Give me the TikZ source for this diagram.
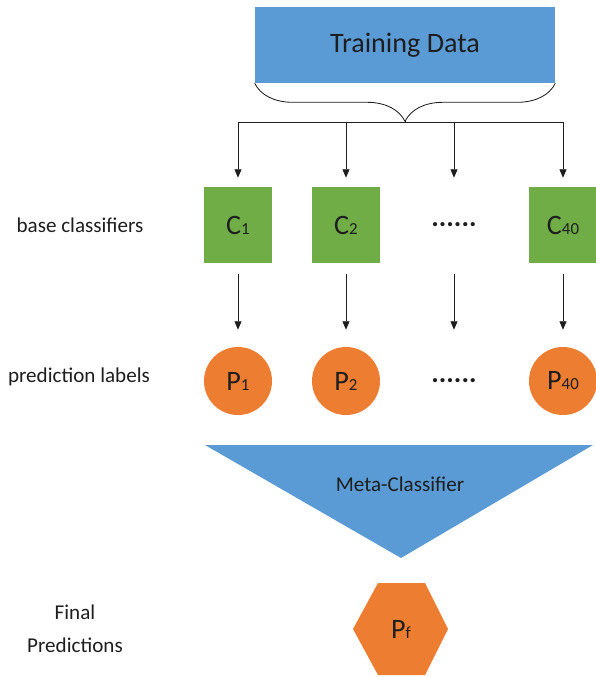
\documentclass[tikz,border=0pt]{standalone}
\usepackage{fontspec}
\setmainfont{Carlito}
\usetikzlibrary{arrows.meta,decorations.pathreplacing}
\definecolor{datablue}{HTML}{5B9BD5}
\definecolor{basegreen}{HTML}{70AD47}
\definecolor{predorange}{HTML}{ED7D31}
\definecolor{inkgray}{HTML}{1E1E1E}
\newcommand{\lsub}[1]{{\fontsize{12}{12}\selectfont #1}}
\tikzset{
  bigtext/.style={font=\fontsize{20}{24}\selectfont, text=inkgray},
  databox/.style={bigtext, fill=datablue, minimum width=7.5cm, minimum height=1.9cm},
  clsbox/.style={bigtext, fill=basegreen, minimum width=1.675cm, minimum height=1.9cm},
  predcirc/.style={bigtext, circle, fill=predorange, minimum size=1.7cm, inner sep=0pt},
  dotsbox/.style={minimum width=1.675cm, minimum height=1.9cm,
    font=\bfseries\fontsize{20}{24}\selectfont, text=inkgray},
  dotscirc/.style={dotsbox, circle, minimum size=1.7cm, inner sep=0pt},
  rowlabel/.style={font=\fontsize{15}{18}\selectfont, text=inkgray, align=center},
  flow/.style={-{Triangle[width=5pt,length=6pt]}, draw=inkgray, line width=0.6pt},
}
\begin{document}
\begin{tikzpicture}[x=0.025cm,y=-0.025cm]
  \useasboundingbox (0,0) rectangle (596,677);
  % training data and the brace under it
  \node[databox] (data) at (405,45) {Training Data};
  \draw[draw=inkgray, line width=0.6pt, decorate,
    decoration={brace, mirror, amplitude=0.95cm}]
    (data.south west) -- (data.south east);
  \coordinate (split) at (405,122);
  % base classifiers
  \node[clsbox] (c1) at (238,225) {C\lsub{1}};
  \node[clsbox] (c2) at (346,225) {C\lsub{2}};
  \node[dotsbox] (c3) at (454,225) {......};
  \node[clsbox] (c4) at (563,225) {C\lsub{40}};
  % prediction labels
  \node[predcirc] (p1) at (238,381) {P\lsub{1}};
  \node[predcirc] (p2) at (346,381) {P\lsub{2}};
  \node[dotscirc] (p3) at (454,381) {......};
  \node[predcirc] (p4) at (563,381) {P\lsub{40}};
  \draw[draw=inkgray, line width=0.6pt] (split) -- ++(0,-2);
  \draw[draw=inkgray, line width=0.6pt] (c1 |- split) -- (c4 |- split);
  \foreach \i in {1,...,4} {
    \draw[flow, shorten >=0.225cm] (c\i |- split) -- (c\i.north);
    \draw[flow, shorten <=0.275cm, shorten >=0.425cm] (c\i.south) -- (p\i.north);
  }
  % meta-classifier
  \fill[datablue] (205,445) -- (593,445) -- (401,558) -- cycle;
  \node[rowlabel] (meta) at (400,484) {Meta-Classifier};
  % final prediction
  \fill[predorange] (353,629) -- (378,583) -- (425,583) -- (448,629)
    -- (425,675) -- (378,675) -- cycle;
  \node[bigtext] (pf) at (401,629) {P\lsub{f}};
  % row labels
  \node[rowlabel] (baselab) at (80,225) {base classifiers};
  \node[rowlabel] (predlab) at (79,377) {prediction labels};
  \node[rowlabel, font=\fontsize{15}{23.5}\selectfont] (finallab) at (75,629)
    {Final\\Predictions};
\end{tikzpicture}
\end{document}
